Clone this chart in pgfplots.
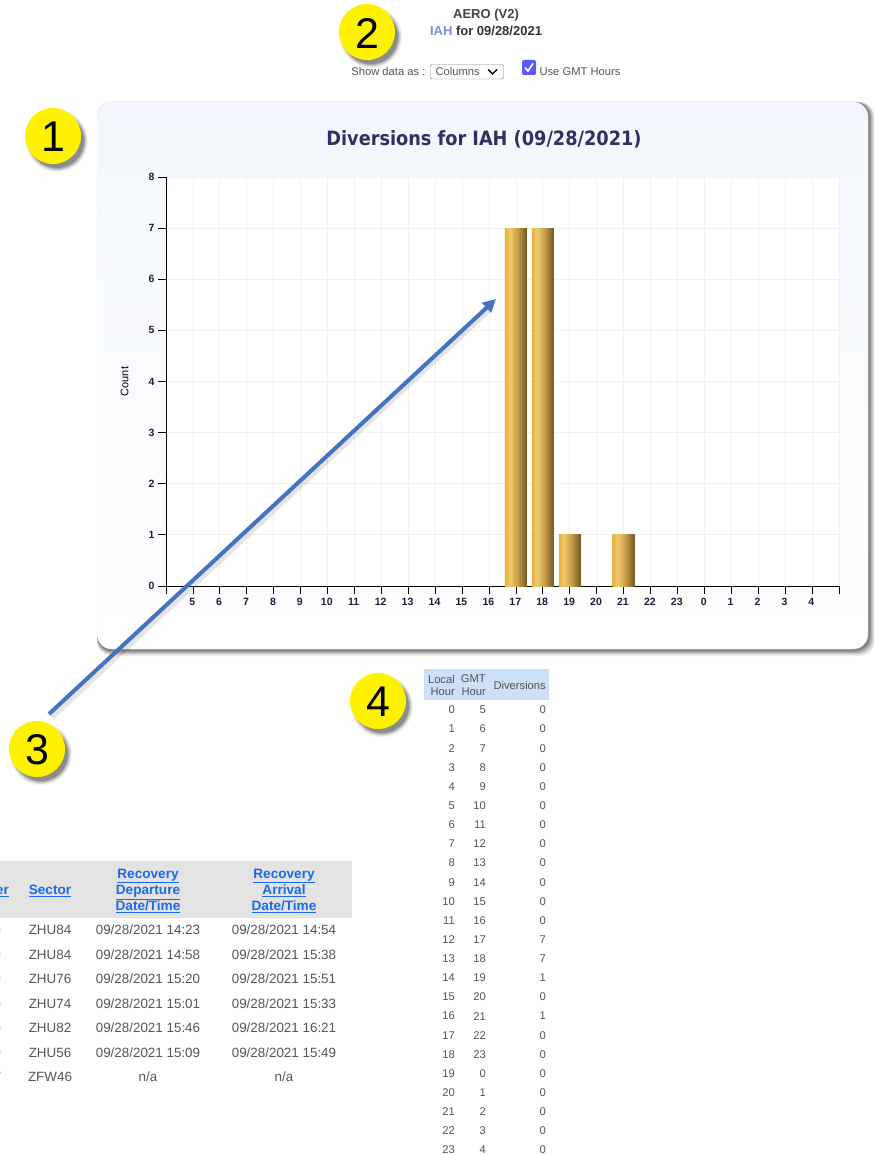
\documentclass[border=0pt]{standalone}
\usepackage{fontspec}
\setmainfont{Liberation Sans}
\newfontfamily\titlefont{DejaVu Sans Condensed}
\usepackage{pgfplots}
\pgfplotsset{compat=1.18}
\usetikzlibrary{arrows.meta}
\usepackage{pgfplotstable}
\definecolor{txt}{HTML}{555555}
\definecolor{navy}{HTML}{2F3163}
\definecolor{linkb}{HTML}{1A6AF0}
\definecolor{gridc}{HTML}{F1F1F1}
\definecolor{cardtop}{HTML}{F3F7FD}
\definecolor{arrowc}{HTML}{4472C4}
\definecolor{headb}{HTML}{CCE0FA}
\definecolor{iahc}{HTML}{7A8EDC}
\pgfdeclarehorizontalshading{gold}{100bp}{
  rgb(0bp)=(0.91,0.70,0.25);
  rgb(25bp)=(0.91,0.70,0.25);
  rgb(37bp)=(0.94,0.79,0.42);
  rgb(55bp)=(0.76,0.60,0.28);
  rgb(75bp)=(0.44,0.34,0.14);
  rgb(100bp)=(0.44,0.34,0.14)}
\pgfplotstableread{
idx hour count
0 5 0
1 6 0
2 7 0
3 8 0
4 9 0
5 10 0
6 11 0
7 12 0
8 13 0
9 14 0
10 15 0
11 16 0
12 17 7
13 18 7
14 19 1
15 20 0
16 21 1
17 22 0
18 23 0
19 0 0
20 1 0
21 2 0
22 3 0
23 4 0
}\hourtable
\newcommand{\fs}[1]{\fontsize{#1}{#1}\selectfont}
\newcommand{\badge}[3]{%
  \foreach \r/\o in {31/0.05,30/0.07,29/0.10,28/0.14,27/0.18}{
    \fill[black,opacity=\o] (#1+4,#2+5) circle (\r);}
  \fill[yellow] (#1,#2) circle (28);
  \node[font=\fs{43},black] at (#1,#2+1) {#3};}
\begin{document}
\begin{tikzpicture}[x=1pt,y=-1pt]
\path[use as bounding box] (0,0) rectangle (874,1155);
\clip (0,0) rectangle (874,1155);
\fill[white] (0,0) rectangle (874,1155);
% page header
\node[font=\fs{13}\bfseries,text=txt!80!black] at (486,15.5) {AERO (V2)};
\node[font=\fs{13}\bfseries,text=txt!60!black] at (486,31) {\textcolor{iahc}{IAH} for 09/28/2021};
\node[font=\fs{11.2},text=txt,anchor=east] at (429,72) {Show data as :};
\draw[gray,rounded corners=1.5] (430.5,64.5) rectangle (503.5,79);
\node[font=\fs{11.2},text=txt,anchor=west] at (432,72) {Columns};
\draw[black,line width=1.4] (488,69.5) -- (492.5,74) -- (497,69.5);
\fill[blue!65!white,rounded corners=2] (522,60) rectangle (536,75);
\draw[white,line width=1.6] (525,67.5) -- (528,71) -- (533,63.5);
\node[font=\fs{11.2},text=txt,anchor=west] at (536,72) {Use GMT Hours};
% card
\foreach \d/\o in {7/0.05,6/0.07,5/0.09,4/0.11,3/0.13,2/0.15}{
  \fill[black,opacity=\o,rounded corners=15] (97,102) rectangle (868+\d,649+\d);}
\shade[rounded corners=15,top color=cardtop,bottom color=white,draw=gray!12] (97,102) rectangle (868,649);
\node[font=\titlefont\fs{19.7}\bfseries,text=navy] at (484,139.5) {Diversions for IAH (09/28/2021)};
% chart
\begin{axis}[
  at={(166pt,-586pt)},anchor=south west,
  scale only axis,width=673pt,height=409pt,
  xmin=-1,xmax=24,ymin=0,ymax=8,
  axis background/.style={fill=white},
  axis x line*=bottom,axis y line*=left,
  axis line style={black,line width=0.8pt,-},
  xtick={-1,...,24},
  xticklabels={,5,6,7,8,9,10,11,12,13,14,15,16,17,18,19,20,21,22,23,0,1,2,3,4,},
  ytick={0,...,8},
  grid=major,major grid style={gridc,line width=0.8pt},
  tick style={black,line width=0.8pt},
  major tick length=8pt,
  tick align=outside,
  x tick label style={font=\fs{10.5}\bfseries,text=navy!60!black,yshift=-1pt,xshift=-0.7pt},
  y tick label style={font=\fs{10.5}\bfseries,text=navy!60!black,/pgf/number format/assume math mode=true},
  ylabel={Count},
  ylabel style={font=\fs{11},text=black,at={(axis description cs:-0.0505,0.5)},anchor=south},
  ybar,bar width=22pt,
]
\addplot[draw=none,shading=gold,shade,restrict x to domain=11.9:12.1,bar shift=0pt] table[x=idx,y=count]{\hourtable};
\addplot[draw=none,shading=gold,shade,restrict x to domain=12.9:13.1,bar shift=0pt] table[x=idx,y=count]{\hourtable};
\addplot[draw=none,shading=gold,shade,restrict x to domain=13.9:14.1,bar shift=0pt] table[x=idx,y=count]{\hourtable};
\addplot[draw=none,shading=gold,shade,restrict x to domain=15.9:16.1,bar shift=0pt] table[x=idx,y=count]{\hourtable};
\end{axis}
% lower-left table
\fill[black!11] (0,861) rectangle (352,918);
\begin{scope}[every node/.style={font=\fs{13.6}\bfseries,text=linkb,align=center,inner sep=0pt,anchor=base}]
\node[anchor=base east] at (9,894.5) {\underline{er}};
\node at (50,894.5) {\underline{Sector}};
\node at (148,878) {\underline{Recovery}};
\node at (148,894.5) {\underline{Departure}};
\node at (148,910.5) {\underline{Date/Time}};
\node at (284,878) {\underline{Recovery}};
\node at (284,894.5) {\underline{Arrival}};
\node at (284,910.5) {\underline{Date/Time}};
\end{scope}
\begin{scope}[every node/.style={font=\fs{13.4},text=txt,inner sep=0pt}]
\foreach \y/\a/\s/\d/\r in {930/0/ZHU84/09\slash 28\slash 2021 14:23/09\slash 28\slash 2021 14:54,
 954.5/0/ZHU84/09\slash 28\slash 2021 14:58/09\slash 28\slash 2021 15:38,
 979/0/ZHU76/09\slash 28\slash 2021 15:20/09\slash 28\slash 2021 15:51,
 1003.5/0/ZHU74/09\slash 28\slash 2021 15:01/09\slash 28\slash 2021 15:33,
 1028/0/ZHU82/09\slash 28\slash 2021 15:46/09\slash 28\slash 2021 16:21,
 1052.5/0/ZHU56/09\slash 28\slash 2021 15:09/09\slash 28\slash 2021 15:49,
 1077/W/ZFW46/n\slash a/n\slash a}{
  \node[anchor=east] at (1,\y) {\a};
  \node at (50,\y) {\s};
  \node at (148,\y) {\d};
  \node at (284,\y) {\r};
}
\end{scope}
% hour table
\fill[headb] (424,669) rectangle (549,700);
\begin{scope}[every node/.style={font=\fs{11.2},text=txt,inner sep=0pt}]
\node[anchor=east] at (455,679) {Local};
\node[anchor=east] at (455,691.5) {Hour};
\node[anchor=east] at (486,679) {GMT};
\node[anchor=east] at (486,691.5) {Hour};
\node[anchor=east] at (546,685) {Diversions};
\pgfplotstablegetrowsof{\hourtable}
\pgfmathtruncatemacro{\lastrow}{\pgfplotsretval-1}
\foreach \i in {0,...,\lastrow}{
  \pgfplotstablegetelem{\i}{hour}\of{\hourtable}\let\hh\pgfplotsretval
  \pgfplotstablegetelem{\i}{count}\of{\hourtable}\let\cc\pgfplotsretval
  \pgfmathsetmacro{\yy}{710+\i*19.13}
  \node[anchor=east] at (455,\yy) {\i};
  \node[anchor=east] at (486,\yy) {\hh};
  \node[anchor=east] at (546,\yy) {\cc};
}
\end{scope}
% arrow and badges
\draw[black,opacity=0.10,line width=5.5] (52,717) -- (490,309);
\draw[-{Triangle[length=13,width=13]},color=arrowc,line width=4] (49,714) -- (496,299);
\badge{53}{136}{1}
\badge{367}{32}{2}
\badge{37}{749}{3}
\badge{378}{701}{4}
\end{tikzpicture}
\end{document}
